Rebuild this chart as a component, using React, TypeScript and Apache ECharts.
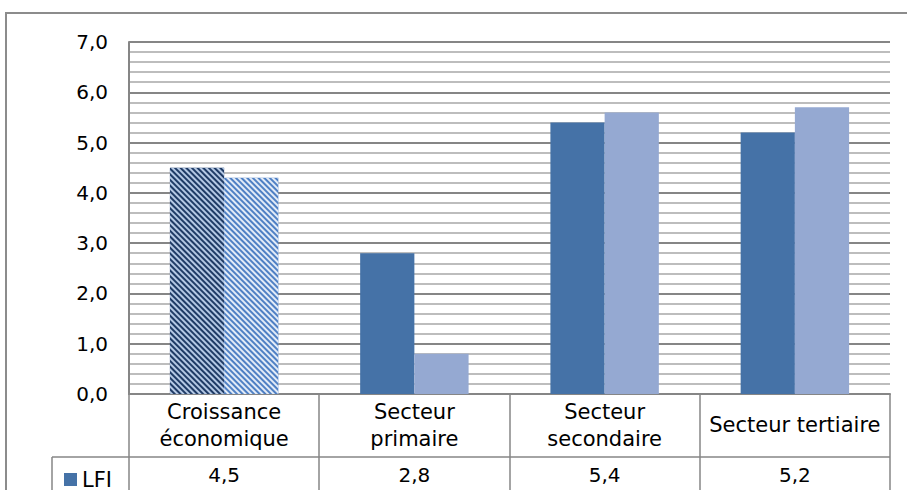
import React, { useEffect, useRef } from "react";
import * as echarts from "echarts";

const categories = ["Croissance\néconomique", "Secteur\nprimaire", "Secteur\nsecondaire", "Secteur tertiaire"];
const lfiValues = [4.5, 2.8, 5.4, 5.2];
const otherValues = [4.3, 0.8, 5.6, 5.7];
const seriesNames = ["LFI", "Série 2"];
const yTicks = { min: 0, max: 7, interval: 1 };

const FONT = "DejaVu Sans";
const W = 907;
const H = 490;
const GRID_L = 129;
const GRID_R = 17;
const GRID_T = 42;
const PLOT_B = 394;
const ROW1_B = 457;
const LEG_L = 52;
const GRAY = "#868686";

const fmt = (v: number) => v.toFixed(1).replace(".", ",");

export default function App() {
  const ref = useRef<HTMLDivElement>(null);
  useEffect(() => {
    if (!ref.current) return;
    const chart = echarts.init(ref.current, undefined, { renderer: "svg" });
    const plotW = W - GRID_L - GRID_R;
    const n = categories.length;
    const tableLines: any[] = [];
    for (let i = 0; i <= n; i++) {
      const x = Math.round(GRID_L + (plotW * i) / n);
      tableLines.push({
        type: "line",
        shape: { x1: x, y1: PLOT_B, x2: x, y2: H + 5 },
        style: { stroke: GRAY, lineWidth: 1.5 },
        z: 10,
      });
    }
    tableLines.push({
      type: "line",
      shape: { x1: LEG_L, y1: ROW1_B, x2: W - GRID_R, y2: ROW1_B },
      style: { stroke: GRAY, lineWidth: 1.5 },
      z: 10,
    });
    tableLines.push({
      type: "line",
      shape: { x1: LEG_L, y1: ROW1_B, x2: LEG_L, y2: H + 5 },
      style: { stroke: GRAY, lineWidth: 1.5 },
      z: 10,
    });
    tableLines.push({
      type: "rect",
      shape: { x: 6, y: 13, width: W + 20, height: H + 20 },
      style: { fill: "none", stroke: "#8c8c8c", lineWidth: 2 },
      z: 10,
    });

    const stripeDark = {
      color: "#1f3b66",
      decal: {
        symbol: "rect",
        symbolSize: 1,
        color: "#b4c8e4",
        dashArrayX: [1, 0],
        dashArrayY: [2, 2],
        rotation: Math.PI / 4,
      },
    };
    const stripeLight = {
      color: "#4f80c4",
      decal: {
        symbol: "rect",
        symbolSize: 1,
        color: "#e2ebf7",
        dashArrayX: [1, 0],
        dashArrayY: [2, 2],
        rotation: Math.PI / 4,
      },
    };

    chart.setOption({
      animation: false,
      backgroundColor: "#ffffff",
      textStyle: { fontFamily: FONT },
      grid: { left: GRID_L, right: GRID_R, top: GRID_T, bottom: H - PLOT_B, containLabel: false },
      legend: {
        data: [{ name: seriesNames[0], icon: "rect" }],
        left: 59,
        top: 464,
        itemWidth: 13,
        itemHeight: 13,
        itemGap: 5,
        textStyle: { fontSize: 21, color: "#000", fontFamily: FONT },
      },
      xAxis: [
        {
          type: "category",
          data: categories,
          axisLine: { show: true, lineStyle: { color: GRAY, width: 2 } },
          axisTick: { show: false },
          splitLine: { show: false },
          axisLabel: {
            interval: 0,
            margin: 31,
            verticalAlign: "middle",
            fontSize: 21,
            lineHeight: 27,
            color: "#000",
            fontFamily: FONT,
          },
        },
        {
          type: "category",
          position: "bottom",
          data: lfiValues.map(fmt),
          axisLine: { show: false },
          axisTick: { show: false },
          splitLine: { show: false },
          axisLabel: {
            interval: 0,
            margin: 81,
            verticalAlign: "middle",
            fontSize: 20,
            color: "#000",
            fontFamily: FONT,
          },
        },
      ],
      yAxis: {
        type: "value",
        min: yTicks.min,
        max: yTicks.max,
        interval: yTicks.interval,
        axisLine: { show: true, lineStyle: { color: GRAY, width: 2 } },
        axisTick: { show: false },
        axisLabel: {
          formatter: (v: number) => fmt(v),
          fontSize: 20,
          margin: 21,
          color: "#000",
          fontFamily: FONT,
        },
        splitLine: { show: true, lineStyle: { color: GRAY, width: 2 } },
        minorTick: { show: false, splitNumber: 5 },
        minorSplitLine: { show: true, lineStyle: { color: "#bdbdbd", width: 2 } },
      },
      series: [
        {
          name: seriesNames[0],
          type: "bar",
          xAxisIndex: 0,
          barGap: "0%",
          barCategoryGap: "43%",
          itemStyle: { color: "#4572a7" },
          data: lfiValues.map((v, i) => (i === 0 ? { value: v, itemStyle: stripeDark } : v)),
        },
        {
          name: seriesNames[1],
          type: "bar",
          xAxisIndex: 0,
          barGap: "0%",
          barCategoryGap: "43%",
          itemStyle: { color: "#95a9d2" },
          data: otherValues.map((v, i) => (i === 0 ? { value: v, itemStyle: stripeLight } : v)),
        },
      ],
      graphic: tableLines,
    });
    return () => chart.dispose();
  }, []);
  return <div ref={ref} style={{ position: "fixed", left: 0, top: 0, width: W, height: H }} />;
}
